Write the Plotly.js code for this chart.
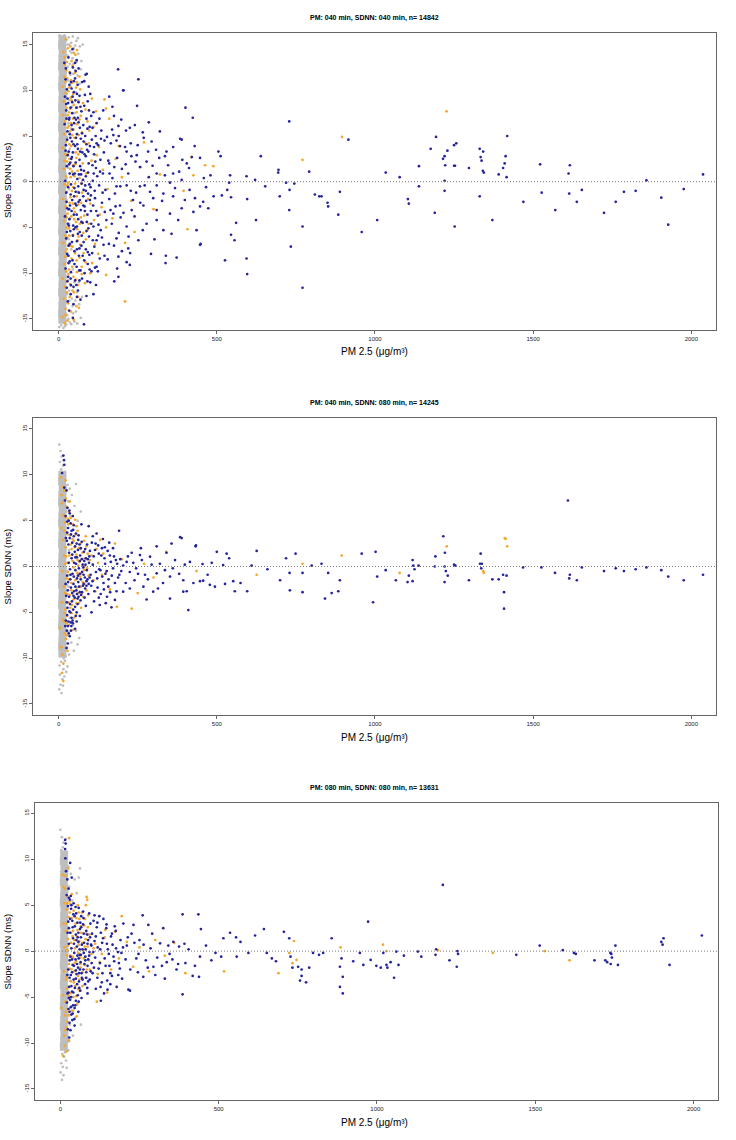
<!DOCTYPE html>
<html>
<head>
<meta charset="utf-8">
<script src="https://cdn.plot.ly/plotly-3.0.1.min.js"></script>
<style>html,body{margin:0;padding:0;background:#fff;}#chart{width:736px;height:1140px;}</style>
</head>
<body>
<div id="chart"></div>
<script>
// ---------------- DATA ----------------
const panelTitles = [
  "PM: 040 min, SDNN: 040 min, n= 14842",
  "PM: 040 min, SDNN: 080 min, n= 14245",
  "PM: 080 min, SDNN: 080 min, n= 13631"
];
const xTickVals = [0, 500, 1000, 1500, 2000];
const yTickVals = [-15, -10, -5, 0, 5, 10, 15];
const xLabel = "PM 2.5 (\u03bcg/m\u00b3)";
const yLabel = "Slope SDNN (ms)";

// Panel 1 : PM 040 / SDNN 040
const p1GreyCore = [[12,15.6],[11,14.9],[13,14.1],[12,13.4],[11,12.6],[13,11.9],[12,11.1],[11,10.4],[13,9.6],[12,8.9],[11,8.1],[13,7.4],[12,6.6],[11,5.9],[13,5.1],[12,4.4],[11,3.6],[13,2.9],[12,2.1],[11,1.4],[13,0.6],[12,-0.1],[11,-0.9],[13,-1.6],[12,-2.4],[11,-3.1],[13,-3.9],[12,-4.6],[11,-5.4],[13,-6.1],[12,-6.9],[11,-7.6],[13,-8.4],[12,-9.1],[11,-9.9],[13,-10.6],[12,-11.4],[11,-12.1],[13,-12.9],[12,-13.6],[11,-14.4],[12,-15.1]];
const p1Grey = [[25,15.5],[32,15.8],[40,15.2],[48,14.6],[56,15.4],[62,14.0],[28,13.8],[35,12.9],[44,13.5],[52,12.2],[60,11.6],[70,12.3],[22,12.0],[30,11.1],[38,10.4],[46,11.8],[54,9.8],[66,10.7],[26,9.6],[34,8.9],[42,8.2],[50,7.5],[24,7.1],[31,6.4],[39,5.8],[27,4.9],[35,3.6],[23,2.8],[30,1.5],[26,0.4],[33,-0.8],[24,-1.9],[29,-3.1],[36,-4.0],[25,-5.2],[32,-6.3],[40,-7.4],[27,-8.1],[35,-8.9],[45,-9.6],[23,-9.9],[30,-10.8],[38,-11.4],[50,-11.0],[58,-12.1],[26,-12.3],[34,-13.0],[44,-13.6],[55,-14.2],[65,-13.4],[22,-14.4],[31,-15.0],[40,-15.6],[50,-15.3],[70,-14.9],[20,-15.8],[76,15.0],[72,13.2],[18,16.0],[15,-16.0],[80,11.0],[64,-11.0],[74,-12.6],[28,15.0],[36,14.3],[21,-13.0],
  [3,16.0],[8,15.8],[20,14.8],[16,13.2],[24,11.0],[19,9.0],[33,15.0],[45,15.9],[61,15.7],[52,14.9],[47,12.9],[41,14.1],[57,13.1],[67,14.8],[29,12.6],[37,11.7],[21,-12.6],[33,-11.9],[42,-12.8],[27,-14.6],[36,-15.4],[46,-14.4],[59,-15.5],[17,-14.9],[24,-15.6],[53,-13.0],[2,-15.9],[8,-15.7]];
const p1Orange = [[15,14.2],[20,12.8],[18,11.5],[12,10.4],[22,9.7],[16,8.8],[25,8.1],[14,7.3],[20,6.6],[28,5.9],[17,5.2],[24,4.4],[13,3.7],[21,3.0],[27,2.2],[16,1.4],[23,0.6],[19,-0.3],[26,-1.1],[14,-1.9],[22,-2.7],[28,-3.5],[17,-4.3],[24,-5.0],[20,-5.9],[15,-6.7],[26,-7.4],[21,-8.2],[18,-9.0],[24,-9.8],[13,-10.6],[20,-11.5],[16,-12.8],[22,-13.9],[12,-14.8],[19,-15.5],
  [35,12.0],[42,10.8],[55,10.3],[38,9.2],[48,8.4],[62,8.9],[33,7.6],[45,6.9],[58,6.3],[70,7.2],[36,5.5],[50,4.8],[64,5.1],[40,3.9],[54,3.2],[72,3.6],[34,2.5],[46,1.8],[60,1.2],[76,2.0],[38,0.5],[52,-0.2],[66,0.4],[42,-1.0],[57,-1.6],[74,-1.2],[35,-2.3],[48,-2.9],[62,-2.5],[40,-3.8],[55,-4.4],[70,-3.9],[33,-5.1],[46,-5.8],[60,-6.4],[78,-5.6],[38,-7.0],[52,-7.8],[66,-8.3],[43,-9.3],[58,-9.9],[36,-11.2],[48,-12.1],[30,-13.3],[62,-12.6],
  [85,7.9],[95,4.2],[110,6.0],[120,2.9],[140,1.3],[155,-0.8],[100,-2.4],[130,-3.6],[90,-5.3],[115,-6.8],[150,-5.0],[170,-4.0],[180,2.5],[200,0.5],[145,9.0],[150,8.0],[160,6.9],[210,-6.7],[150,-10.2],[210,-13.1],[100,-10.0],[85,-8.8],[125,-7.9],[190,3.9],[230,-2.1],[260,1.6],[300,-3.0],[320,0.8],[270,4.3],[395,-1.0],[420,2.7],[489,1.7],[426,0.7],[407,-5.2],[463,1.8],[771,2.4],[896,4.9],[1226,7.7],[240,-5.5]];
const p1OrangeExtra = [[31,9.9],[27,11.3],[44,12.7],[53,13.9],[19,13.6],[37,14.8],[23,15.6],[58,14.4],[66,11.5],[41,8.9],[29,7.3],[57,7.6],[34,4.1],[47,5.7],[62,3.0],[43,1.1],[28,-0.4],[51,-3.3],[37,-1.7],[59,-5.2],[27,-6.1],[44,-7.1],[33,-9.6],[68,-6.9],[55,-10.7],[26,-12.1],[39,-14.2],[73,-9.3],[81,-3.7],[87,0.9],[93,-1.9],[104,2.3],[112,-4.2],[97,5.6],[83,-11.1],[68,10.1],[77,8.6],[106,-8.9],[128,3.8],[136,-2.8],[118,7.7],[64,-13.8],[48,-15.1],[31,3.2],[25,-3.9],[46,-0.6],[71,-2.3],[56,2.6],[39,6.4],[22,-7.7],
  [21,10.9],[26,13.1],[33,10.3],[29,14.6],[41,13.2],[52,11.9],[46,9.6],[59,8.1],[32,6.1],[43,5.1],[25,2.9],[37,1.4],[53,1.9],[30,-0.1],[45,-2.4],[61,-1.1],[23,-3.8],[34,-5.9],[49,-4.1],[67,-4.6],[29,-7.0],[41,-8.4],[57,-8.6],[24,-10.9],[35,-12.6],[47,-10.4],[61,-11.3],[28,-15.2],[74,5.4],[86,-6.3],[91,6.6],[73,-10.1],
  [18,2.3],[25,-2.2],[31,-10.1],[39,11.1],[50,0.6],[63,-6.0],[56,-13.6],[44,-11.9],[24,12.2],[36,8.0],[71,-0.2],[83,4.3],[95,-4.6],[105,9.1],[66,6.8],[48,14.1],[21,-14.6],[33,-4.6],[57,10.9],[79,-7.8]];
const p1Blue = [[18,13.0],[22,11.2],[26,10.1],[20,9.3],[30,8.6],[24,7.8],[34,7.0],[19,6.3],[28,5.5],[37,4.8],[23,4.0],[32,3.3],[40,2.5],[26,1.7],[35,0.9],[21,0.1],[30,-0.6],[38,-1.4],[25,-2.2],[33,-3.0],[20,-3.8],[29,-4.6],[37,-5.4],[24,-6.2],[32,-7.0],[27,-7.9],[35,-8.7],[22,-9.5],[30,-10.4],[26,-11.6],[38,-12.3],[33,6.8],[29,2.9],[36,-2.6],
  [45,12.5],[52,11.3],[60,10.6],[48,9.8],[66,9.4],[43,8.7],[56,8.1],[72,7.7],[50,7.0],[63,6.5],[78,6.2],[44,5.7],[58,5.2],[70,4.7],[47,4.1],[61,3.6],[75,3.2],[42,2.7],[54,2.1],[68,1.7],[80,1.2],[46,0.8],[59,0.3],[73,-0.2],[50,-0.7],[64,-1.2],[78,-1.6],[43,-2.0],[56,-2.6],[70,-3.1],[48,-3.6],[62,-4.1],[76,-4.5],[53,-5.0],[67,-5.5],[45,-5.9],[58,-6.5],[72,-7.0],[50,-7.6],[64,-8.1],[44,-8.6],[57,-9.3],[69,-9.7],[52,-10.8],[61,-11.9],[47,-13.4],[80,-15.6],
  [85,11.7],[92,8.8],[100,9.6],[110,7.6],[88,6.9],[98,6.0],[120,6.4],[135,5.6],[84,5.0],[105,4.6],[125,4.0],[145,4.5],[90,3.5],[112,3.0],[132,2.4],[95,2.0],[118,1.5],[140,0.9],[86,0.6],[108,0.1],[128,-0.4],[148,-0.9],[93,-1.3],[115,-1.8],[137,-2.3],[82,-2.7],[102,-3.2],[124,-3.7],[146,-3.3],[89,-4.4],[110,-4.9],[133,-5.3],[96,-6.0],[120,-6.4],[142,-6.9],[86,-7.4],[106,-7.8],[130,-8.4],[92,-9.0],[115,-9.4],[100,-11.0],[88,-12.5],
  [160,9.3],[175,7.2],[190,5.0],[210,3.8],[165,4.2],[185,2.6],[200,1.4],[230,2.8],[170,0.4],[195,-0.5],[220,0.9],[245,-1.2],[160,-1.9],[180,-2.7],[205,-3.4],[235,-2.0],[168,-4.6],[190,-5.6],[215,-4.9],[240,-3.8],[175,-7.0],[200,-7.6],[155,-8.5],[185,-9.5],[225,5.9],[250,4.0],[160,2.0],[178,-1.3],[205,10.0],
  [252,11.2],[204,10.0],[89,11.8],[401,8.1],[424,7.0],[241,6.2],[189,6.1],[173,5.1],[213,5.6],[266,5.4],[320,5.5],[269,4.8],[384,4.7],[389,4.6],[294,4.4],[120,4.2],[228,4.2],[308,3.5],[341,3.3],[362,3.8],[194,3.9],[215,3.3],[283,3.3],[247,2.9],[336,2.8],[391,2.4],[421,2.7],[405,2.0],[447,2.6],[278,2.2],[257,1.6],[297,1.75],[310,0.9],[336,0.7],[362,0.9],[412,1.5],[459,0.4],[389,0.2],[352,-0.1],[310,-0.4],[257,-0.5],[215,-0.4],[183,-0.5],[289,-1.1],[331,-1.3],[362,-1.6],[399,-2.0],[431,-1.8],[457,-2.2],[447,-2.7],[473,-2.9],[426,-3.3],[389,-2.9],[352,-3.5],[310,-3.1],[268,-2.6],[231,-3.1],[194,-2.6],[173,-3.5],[310,-4.2],[278,-4.6],[331,-5.3],[378,-4.2],[436,-5.3],[447,-6.9],[449,-6.8],[252,-6.4],[220,-7.3],[183,-6.2],[226,-7.8],[189,-8.2],[339,-8.1],[373,-8.3],[338,-8.9],[215,-8.8],[120,-9.3],[189,-10.4],
  [505,3.3],[512,2.8],[480,0.7],[490,-1.6],[516,-1.5],[542,0.7],[539,-0.1],[533,-0.9],[545,-1.7],[561,-4.5],[545,-5.8],[556,-6.4],[526,-8.6],[594,0.6],[596,-1.9],[594,-8.4],[596,-10.1],[624,-4.2],[621,0.2],[639,2.8],[653,-0.5],[694,1.0],[695,1.3],[699,-1.6],[719,-0.1],[730,-0.9],[729,6.6],[729,-3.1],[734,-7.1],[745,-0.2],[771,-11.6],[771,-4.9],[792,1.1],[810,-1.4],[824,-1.6],[831,-1.6],[850,-2.3],[852,-2.7],[884,-3.6],[889,-1.1],[916,4.6],[958,-5.5],
  [1007,-4.2],[1034,1.0],[1078,0.5],[1104,-1.9],[1107,-2.4],[1139,1.7],[1139,-0.5],[1176,3.6],[1189,-3.4],[1193,4.9],[1215,2.5],[1220,2.8],[1229,3.4],[1222,1.8],[1220,0.1],[1220,-1.0],[1250,4.0],[1257,4.2],[1250,1.75],[1253,1.75],[1252,-4.9],[1297,1.5],[1331,3.6],[1342,3.3],[1334,2.7],[1337,2.3],[1341,1.2],[1344,1.0],[1331,-1.6],[1371,-4.2],[1391,0.8],[1405,1.5],[1410,2.0],[1413,2.8],[1418,5.0],[1416,0.5],[1469,-2.2],[1522,1.9],[1527,-1.2],[1570,-3.1],[1616,1.8],[1612,0.9],[1614,-1.3],[1638,-2.2],[1654,-0.9],[1724,-3.4],[1761,-2.2],[1787,-1.1],[1824,-1.0],[1858,0.15],[1905,-1.75],[1927,-4.7],[1976,-0.8],[2037,0.8]];
const p1BlueExtra = [[41,10.2],[54,12.1],[63,8.7],[38,8.1],[49,6.4],[67,5.9],[81,8.3],[95,10.4],[74,10.9],[58,9.6],[35,5.2],[52,3.9],[79,4.4],[91,5.8],[103,7.2],[117,5.0],[129,6.9],[141,7.8],[153,4.9],[86,2.8],[99,3.9],[131,1.1],[143,3.2],[157,2.3],[169,5.7],[183,4.5],[64,0.8],[77,0.2],[101,-0.6],[122,0.6],[139,-1.2],[161,0.9],[176,1.6],[41,-3.2],[54,-1.1],[87,-2.1],[109,-2.6],[126,-4.7],[151,-4.2],[164,-3.1],[58,-4.9],[73,-5.9],[94,-5.1],[113,-7.1],[137,-6.1],[159,-6.8],[66,-7.3],[81,-8.6],[97,-8.0],[124,-9.8],[145,-8.1],[56,-11.3],[74,-10.6],[91,-10.9],[110,-12.3],[69,-12.9],[39,-9.9],[47,-11.5],[31,-8.9],[28,-10.9],[42,4.4],[35,-6.8],[47,1.7],[63,-2.2],[84,-0.4],[107,1.8],[119,-3.2],[198,6.8],[212,1.9],[228,-1.0],[196,-3.9],[243,2.2],[258,-2.3],[221,-6.0],[176,-10.9],[285,0.5],[299,-1.8],[272,-0.4],[318,2.6],[327,-2.1],[346,1.8],[368,-0.7],[381,1.1],[303,-6.3],[357,-5.7],[285,6.5],[414,-0.9],[430,3.9],[466,-0.6],[248,8.3],[170,8.2],[225,-9.1],[266,-5.3],[292,-7.9],[188,12.3],
  [23,12.4],[31,13.6],[44,14.5],[57,13.3],[36,11.9],[48,11.0],[28,9.1],[39,10.9],[53,8.9],[61,7.0],[69,8.2],[83,9.5],[25,6.9],[41,6.2],[55,6.8],[74,5.3],[88,4.1],[96,7.8],[107,5.9],[27,4.6],[45,3.2],[59,4.1],[66,2.4],[82,3.0],[93,1.0],[112,3.8],[33,1.9],[51,0.9],[62,-0.5],[71,0.8],[79,-0.9],[97,-0.3],[111,0.9],[24,-1.2],[39,-0.3],[49,-1.6],[67,-2.0],[83,-3.2],[99,-2.0],[114,-1.0],[34,-4.1],[46,-4.8],[57,-3.6],[72,-4.4],[88,-5.4],[103,-4.6],[26,-5.5],[42,-6.6],[61,-5.7],[79,-6.6],[92,-7.7],[108,-6.4],[31,-8.1],[50,-9.0],[65,-9.7],[82,-10.0],[38,-10.6],[58,-12.6],[45,-14.9],[33,-14.1],[104,-9.8],[118,-11.3],
  [22,3.4],[37,2.1],[53,-2.4],[68,3.3],[86,-1.0],[27,-2.9],[44,9.3],[58,-7.4],[76,-8.1],[34,10.6],[63,12.4],[91,-3.6],[48,-5.2],[71,1.3],[39,-11.3],[29,-13.1],[102,-1.5],[116,2.2],[125,-5.9],[134,4.7],[98,-9.6],[81,11.0],[55,4.8],[24,8.5],[66,-10.8],[43,7.5],[78,-2.6],[94,3.3],[32,-4.8],[52,13.0]];

// Panel 2 : PM 040 / SDNN 080
const p2GreyCore = [[12,10.0],[11,9.3],[13,8.5],[12,7.8],[11,7.0],[13,6.3],[12,5.5],[11,4.8],[13,4.0],[12,3.3],[11,2.5],[13,1.8],[12,1.0],[11,0.3],[13,-0.5],[12,-1.2],[11,-2.0],[13,-2.7],[12,-3.5],[11,-4.2],[13,-5.0],[12,-5.7],[11,-6.5],[13,-7.2],[12,-8.0],[11,-8.7],[12,-9.5]];
const p2Grey = [[2,13.3],[6,12.6],[10,12.0],[4,11.4],[14,11.0],[8,10.6],[18,10.2],[3,10.0],[12,9.9],[22,9.4],[28,8.9],[35,8.5],[55,9.0],[42,7.8],[30,7.1],[50,6.6],[25,6.0],[38,5.5],[60,5.0],[28,3.5],[33,1.8],[26,-0.5],[31,-2.2],[27,-4.0],[35,-5.6],[45,-6.4],[30,-7.1],[55,-7.0],[65,-7.8],[40,-8.3],[25,-8.8],[33,-9.6],[48,-9.2],[20,-10.3],[28,-10.9],[8,-10.4],[15,-11.2],[4,-11.8],[12,-12.3],[6,-12.9],[2,-13.4],[9,-13.8],[18,-12.0],[22,-9.8],[16,-10.0],[3,-10.8],[14,-13.0],[24,-11.5],[60,-8.5],[70,6.0],[20,8.8],[26,-2.0]];
const p2Orange = [[7,9.7],[11,6.9],[25,6.5],[15,5.6],[20,4.8],[9,4.2],[26,3.6],[14,2.9],[22,2.1],[18,1.2],[28,0.4],[12,-0.5],[24,-1.3],[16,-2.2],[27,-3.0],[10,-3.9],[21,-4.7],[13,-5.8],[4,-6.7],[19,-7.3],[25,-6.2],[11,-11.6],[15,-12.5],[8,-8.8],[17,8.3],[23,7.4],
  [33,6.0],[38,5.3],[45,4.6],[52,5.1],[60,3.9],[36,3.4],[48,2.8],[70,2.5],[41,1.9],[56,1.3],[75,1.5],[85,0.9],[44,0.6],[62,0.1],[80,-0.4],[90,-0.2],[35,-0.9],[53,-1.5],[68,-1.1],[82,-1.9],[95,-1.0],[40,-2.6],[58,-2.3],[74,-2.9],[47,-3.6],[64,-4.0],[78,-3.3],[37,-4.5],[55,-5.3],[41,-5.1],[32,-6.4],[46,-6.9],[88,2.2],[99,0.7],[72,-0.8],[66,0.5],
  [110,-1.5],[120,1.9],[131,2.9],[141,1.4],[150,-0.6],[162,-2.5],[178,2.5],[184,-4.4],[200,0.8],[231,-4.6],[250,-2.9],[270,0.3],[300,-1.2],[340,1.6],[436,-0.5],[626,-0.9],[771,0.3],[895,1.2],[1078,-0.7],[1227,2.2],[1342,-0.5],[1344,-0.7],[1410,3.1],[1413,3.0],[1418,2.2],[86,3.3],[83,0]];
const p2OrangeExtra = [[18,3.9],[29,5.2],[35,7.1],[24,1.1],[31,-1.4],[20,-2.9],[26,-5.4],[17,-6.0],[12,-9.6],[39,2.4],[47,-0.1],[54,3.5],[61,-2.9],[69,1.9],[76,-1.7],[92,1.4],[59,-0.7],[42,-4.2],[49,-5.6],[35,-3.1],[57,4.4],[81,2.8],[104,1.2],[116,-2.7],[125,0.4],[137,-0.9],[71,-4.5],[88,-2.6],[30,4.6],[64,2.0],[23,-7.9],[28,-9.2],[15,-10.6],[9,7.8],[14,8.7],[21,9.4],
  [21,0.3],[29,-0.6],[34,1.2],[40,-1.8],[51,2.1],[63,-1.0],[70,-2.2],[22,5.4],[27,-7.5],[32,-3.9],[18,-5.1],[44,3.0],[56,-4.0],[77,0.8],[60,0.7]];
const p2Blue = [[15,12.1],[17,11.6],[18,11.1],[11,10.2],[18,8.6],[25,8.3],[20,7.2],[28,6.4],[22,5.5],[32,5.0],
  [30,4.2],[38,4.7],[46,4.0],[55,3.6],[35,3.1],[43,2.6],[52,2.2],[62,2.9],[70,2.0],[80,1.6],[90,2.4],[33,1.5],[41,0.9],[49,0.4],[58,1.0],[67,0.6],[76,0.2],[86,0.9],[96,0.4],[36,-0.3],[44,-0.8],[53,-0.4],[61,-1.0],[70,-1.4],[79,-0.9],[88,-1.6],[98,-1.2],[30,-1.7],[39,-2.3],[47,-1.9],[56,-2.6],[65,-2.2],[74,-2.8],[84,-2.4],[94,-3.0],[33,-3.3],[42,-3.8],[51,-3.4],[60,-4.1],[69,-3.7],[28,-4.5],[37,-5.0],[46,-4.7],[54,-5.4],[31,-6.0],[40,-6.5],[26,-7.0],[35,-7.6],[29,-8.4],[23,-5.9],[24,-3.2],[27,-1.0],[26,2.8],[48,3.3],[64,-0.2],[82,-3.4],[57,-6.0],
  [105,2.6],[115,1.8],[125,2.3],[135,1.2],[145,0.9],[155,1.7],[165,0.5],[175,1.1],[185,0.3],[195,0.8],[108,0.2],[118,-0.6],[128,-0.3],[138,-1.1],[148,-0.8],[158,-1.4],[168,-1.0],[178,-1.8],[188,-1.2],[198,-0.5],[103,-2.1],[113,-2.7],[123,-2.3],[133,-3.0],[143,-2.5],[153,-3.3],[163,-2.8],[112,-3.8],[130,-4.2],[167,-4.45],[178,-3.65],[191,3.9],[140,3.0],[160,2.6],[120,3.6],[104,-5.0],
  [389,3.1],[384,3.2],[433,2.2],[231,1.5],[257,1.25],[289,1.07],[341,1.5],[368,0.7],[399,0.2],[455,0.27],[484,0.4],[500,1.6],[520,0.16],[225,-0.6],[273,-0.9],[310,-0.75],[352,-1.1],[394,-1.5],[426,-1.8],[457,-1.55],[494,-2.2],[526,-1.9],[352,-3.5],[394,-2.75],[410,-4.75],[225,-2.4],[268,-2.2],[299,-2.75],[204,-2.75],[278,-3.6],[405,-2.7],[447,-1.6],[478,-2.0],[215,0.5],[240,-1.5],[320,0.3],[260,2.0],[310,2.2],[357,2.5],[434,2.3],[330,-1.8],[245,-0.2],
  [531,1.4],[539,0.9],[626,1.7],[749,1.4],[719,0.9],[831,0.3],[958,1.4],[552,-1.6],[557,-2.7],[575,-1.8],[596,-2.7],[700,-1.5],[731,-2.6],[771,-2.8],[842,-3.5],[863,-2.9],[884,-2.7],[889,-1.5],[852,-0.7],[730,-0.7],[771,-0.7],[610,0.1],[660,-0.3],[800,0.1],
  [994,-3.9],[1007,-1.1],[1002,1.6],[1034,-0.4],[1066,-1.5],[1103,-1.7],[1107,-1.0],[1119,0.7],[1121,0.1],[1119,-1.6],[1125,-0.3],[1138,0.1],[1191,1.1],[1189,0],[1216,3.3],[1221,1.5],[1220,0],[1224,-0.5],[1220,-1.7],[1230,-1.0],[1250,0.2],[1254,0.1],[1297,-1.5],[1334,1.4],[1332,0.3],[1338,0.3],[1336,-0.2],[1371,-1.4],[1391,-1.4],[1405,-0.9],[1416,-1.0],[1408,-2.8],[1408,-4.6],[1468,-0.1],[1526,-0.1],[1569,-0.7],[1610,7.2],[1616,-0.9],[1614,-1.3],[1638,-1.5],[1654,-0.1],[1724,-0.5],[1761,-0.2],[1787,-0.5],[1824,-0.3],[1858,-0.1],[1905,-0.4],[1927,-1.1],[1976,-1.5],[2037,-0.9]];
const p2BlueExtra = [[27,3.7],[34,6.1],[39,3.5],[45,5.5],[51,1.6],[57,2.5],[63,3.4],[68,1.2],[73,2.7],[78,-0.1],[84,1.9],[92,0.8],[99,1.7],[32,0.4],[38,-0.9],[43,-2.9],[48,-1.1],[53,-2.2],[58,-3.0],[62,-1.7],[67,-0.8],[71,-3.1],[77,-2.1],[83,-1.2],[89,-0.4],[95,-1.9],[101,-0.9],[107,-1.6],[29,-2.6],[36,-4.1],[41,-5.6],[47,-3.2],[52,-4.4],[57,-5.0],[63,-3.3],[27,-5.3],[32,-7.3],[38,-6.1],[44,-5.9],[25,-8.9],[21,-6.5],[111,1.1],[117,2.5],[122,-1.3],[127,1.4],[132,-0.4],[137,2.0],[142,-1.8],[147,0.3],[152,-0.5],[157,-2.2],[162,1.2],[172,-0.2],[181,0.7],[192,-0.9],[204,0.1],[212,-1.8],[219,1.1],[236,0.4],[251,-0.8],[263,0.7],[282,-1.4],[294,0.2],[314,-2.4],[336,-0.4],[361,-0.2],[381,-0.8],[415,0.5],[471,-0.9],[108,3.3],[127,-3.4],[149,-4.0],[95,4.4],[72,4.6],[86,-4.3],[146,2.1],[183,-2.7],[172,2.0],[67,-5.4],[52,-6.8],
  [23,3.1],[31,2.4],[37,-1.4],[43,1.3],[49,-2.7],[55,0.3],[61,1.8],[67,-2.8],[73,0.8],[79,-1.9],[85,0.2],[91,-1.4],[97,1.1],[26,-3.9],[34,-4.9],[45,-6.2],[58,-1.3],[66,2.4],[74,-0.6],[81,0.6],[27,4.9],[35,5.8],[41,3.9],[22,-1.9],[29,-6.5],[39,-7.0],[48,4.5],[60,-3.5],[53,1.0],[88,-2.1]];

// Panel 3 : PM 080 / SDNN 080
const p3GreyCore = [[12,10.5],[11,9.8],[13,9.0],[12,8.3],[11,7.5],[13,6.8],[12,6.0],[11,5.3],[13,4.5],[12,3.8],[11,3.0],[13,2.3],[12,1.5],[11,0.8],[13,0.0],[12,-0.7],[11,-1.5],[13,-2.2],[12,-3.0],[11,-3.7],[13,-4.5],[12,-5.2],[11,-6.0],[13,-6.7],[12,-7.5],[11,-8.2],[13,-9.0],[12,-9.7],[11,-10.4]];
const p3Grey = [[0,13.2],[5,12.4],[10,11.8],[3,11.0],[14,10.6],[8,11.3],[20,9.9],[25,9.2],[62,9.0],[33,8.4],[45,7.8],[28,7.0],[52,6.3],[38,5.5],[24,4.6],[30,2.0],[27,-1.0],[32,-3.2],[26,-5.0],[36,-6.0],[48,-7.2],[65,-8.0],[30,-8.0],[22,-9.5],[40,-9.2],[15,-11.0],[25,-10.8],[6,-11.2],[12,-11.5],[3,-12.2],[18,-11.9],[8,-12.6],[1,-13.2],[10,-13.5],[5,-14.0],[20,-12.7],[28,-9.8],[16,-9.0],[55,-5.6],[58,8.0],[18,12.2],[22,-2.5]];
const p3Orange = [[28,12.3],[8,8.3],[14,6.8],[22,6.0],[12,5.2],[19,4.5],[26,3.7],[10,3.0],[17,2.2],[24,1.3],[13,0.4],[21,-0.5],[27,-1.4],[11,-2.2],[18,-3.1],[25,-3.9],[9,-4.8],[16,-5.5],[23,-6.3],[14,-7.0],[20,-4.1],[4,-6.2],[9,-11.4],[15,-8.6],
  [83,5.9],[85,5.6],[32,5.1],[42,4.4],[55,5.0],[68,4.2],[36,3.6],[48,3.0],[60,3.5],[75,2.8],[40,2.2],[52,1.6],[66,2.0],[80,1.3],[92,1.8],[34,0.9],[46,0.3],[58,0.7],[72,0.1],[86,0.5],[38,-0.6],[50,-1.1],[63,-0.7],[77,-1.5],[90,-1.0],[44,-2.2],[56,-2.7],[70,-2.3],[84,-2.9],[33,-3.3],[47,-3.8],[61,-4.3],[41,-5.0],[53,-5.8],[36,-6.5],[98,-0.3],[78,3.5],[64,-1.8],
  [115,-5.5],[148,-4.5],[173,2.1],[194,3.8],[110,0.8],[125,-1.2],[140,1.5],[160,-2.0],[185,-0.8],[210,1.0],[230,-1.7],[250,0.4],[280,-2.2],[300,1.2],[330,-0.5],[360,0.9],[395,-2.4],[517,-2.2],[689,-2.4],[723,-0.2],[733,-1.3],[746,-0.96],[738,1.1],[885,0.4],[1019,0.7],[1030,0],[1193,0.1],[1366,-0.2],[1529,0],[1608,-1.0]];
const p3OrangeExtra = [[18,3.0],[30,4.2],[36,6.2],[24,0.6],[31,-0.5],[20,-2.8],[27,-4.9],[17,-6.6],[12,-9.2],[39,1.6],[46,-1.3],[54,2.3],[60,-3.1],[69,0.9],[74,-0.8],[82,1.9],[57,-0.2],[43,-3.4],[50,-4.9],[35,-2.0],[58,4.2],[87,2.6],[105,0.3],[118,-2.5],[131,-0.3],[142,2.3],[70,-3.8],[93,-2.0],[29,5.4],[65,2.7],[22,-7.7],[19,-8.3],[14,-10.3],[10,7.0],[16,8.2],[25,9.0],[81,5.0],[88,3.9],[40,-6.5],[52,-7.1],
  [21,0.1],[29,-1.9],[34,2.0],[40,-0.7],[51,3.6],[63,-1.4],[70,-3.0],[22,5.2],[27,-7.0],[32,-4.6],[18,-5.6],[44,1.2],[56,-4.1],[77,0.5],[60,1.1],[83,-2.0],[26,-9.7],[20,-10.9]];
const p3Blue = [[15,12.1],[17,11.7],[15,11.1],[16,10.1],[18,8.7],[22,7.8],[26,6.8],[20,6.1],[30,5.6],[24,4.9],
  [34,4.6],[42,5.2],[50,4.1],[58,4.7],[66,3.8],[38,3.3],[46,2.7],[54,3.1],[62,2.4],[72,2.9],[82,2.2],[95,3.0],[31,2.0],[40,1.4],[49,1.8],[57,1.0],[65,1.5],[75,0.9],[88,1.2],[98,0.6],[35,0.3],[44,-0.2],[52,0.5],[61,-0.4],[70,0.2],[79,-0.6],[92,-0.1],[30,-1.0],[39,-1.5],[48,-0.9],[56,-1.8],[64,-1.2],[73,-2.0],[86,-1.6],[96,-2.2],[33,-2.6],[42,-3.1],[51,-2.5],[59,-3.3],[68,-2.9],[78,-3.6],[28,-3.9],[37,-4.4],[46,-4.0],[55,-4.8],[63,-4.3],[31,-5.3],[40,-5.9],[49,-5.4],[26,-6.3],[35,-6.9],[44,-7.4],[29,-7.8],[23,-4.6],[25,-2.0],[27,0.8],[25,3.2],[85,-4.0],
  [105,3.3],[123,3.8],[136,3.5],[115,2.6],[128,2.0],[145,2.5],[160,1.6],[175,2.2],[190,1.2],[108,1.1],[118,0.4],[132,0.9],[150,0.2],[165,0.7],[182,-0.1],[198,0.4],[110,-0.7],[125,-1.3],[140,-0.8],[155,-1.6],[170,-1.1],[188,-1.9],[102,-2.4],[117,-2.9],[133,-2.4],[148,-3.2],[163,-2.7],[178,-3.9],[195,-3.0],[112,-4.1],[138,-4.6],[128,-5.4],[158,-3.6],[104,-0.1],
  [215,-4.2],[220,-4.3],[262,-2.8],[294,-1.7],[336,-1.2],[315,0.85],[357,1.0],[278,2.85],[325,2.5],[231,2.85],[199,3.0],[260,3.9],[386,4.0],[436,4.0],[444,2.4],[386,-4.7],[418,-2.7],[438,-2.8],[395,-1.3],[367,-2.0],[441,-0.6],[477,-1.0],[508,-0.6],[536,2.0],[515,1.4],[210,0.6],[240,-0.8],[250,1.2],[270,-1.0],[285,0.3],[300,-2.6],[345,-0.3],[375,0.5],[405,0.2],[460,0.6],[490,-0.2],[330,-3.0],[245,-2.3],[225,1.9],
  [555,1.5],[569,1.0],[615,1.7],[643,2.4],[706,2.1],[723,1.4],[857,1.4],[946,-0.2],[957,-1.5],[925,-1.1],[888,-0.8],[883,-1.7],[892,-2.8],[883,-3.9],[892,-4.6],[557,-0.6],[594,-0.2],[652,-0.2],[668,-0.8],[681,-1.1],[727,-0.6],[733,-1.8],[751,-1.7],[757,-3.2],[762,-2.7],[776,-3.4],[762,-2.0],[786,-1.8],[798,-0.2],[817,-0.4],[830,-0.2],
  [972,3.2],[980,-0.96],[998,-1.6],[1012,-1.8],[1020,-0.2],[1030,-1.5],[1033,-1.8],[1043,-1.2],[1054,-2.9],[1061,-0.05],[1068,-1.5],[1085,-0.5],[1129,-0.05],[1140,-0.6],[1185,-0.4],[1187,0.2],[1208,7.2],[1229,-1.0],[1254,0],[1256,-0.3],[1252,-1.7],[1440,-0.4],[1514,0.6],[1587,0.1],[1622,-0.2],[1628,-0.3],[1687,-1.0],[1721,-1.0],[1727,-1.2],[1737,-0.2],[1740,-0.3],[1742,-0.7],[1738,-1.4],[1753,0.6],[1761,-1.5],[1898,1.0],[1905,1.4],[1902,0.7],[1924,-1.5],[2026,1.7]];
const p3BlueExtra = [[27,2.5],[33,6.0],[39,2.6],[45,3.8],[51,1.2],[57,2.0],[63,3.1],[68,0.7],[74,1.9],[80,0.2],[86,0.8],[94,1.5],[100,1.9],[32,-0.6],[37,-2.3],[43,-1.6],[49,-2.1],[54,-0.5],[59,-2.4],[65,-0.4],[70,-3.1],[76,-1.4],[82,-2.3],[88,-0.9],[93,-3.1],[99,-1.3],[106,-1.8],[29,-2.9],[35,-3.8],[41,-4.5],[47,-5.9],[53,-3.6],[58,-5.5],[62,-2.0],[27,-5.1],[33,-6.1],[38,-7.5],[45,-6.2],[24,-8.5],[21,-5.6],[112,1.6],[117,3.1],[121,-1.9],[126,0.2],[131,-3.4],[135,1.4],[143,-1.6],[147,0.8],[153,-0.3],[158,-2.4],[163,1.9],[168,-0.6],[176,0.3],[185,-1.3],[193,-0.2],[206,-0.9],[213,1.5],[221,-2.0],[234,0.9],[247,-0.3],[263,0.7],[276,-1.8],[290,1.9],[306,-0.7],[321,-1.6],[341,0.6],[354,-0.9],[372,-1.4],[392,0.8],[425,-1.6],[108,3.9],[127,-3.9],[149,-4.2],[91,4.1],[72,4.3],[86,-4.6],[146,2.9],[183,-2.6],[172,2.7],[67,-5.1],[57,-6.6],[36,8.0],[31,9.6],
  [23,2.0],[31,3.5],[37,-0.9],[43,0.8],[49,-3.0],[55,1.5],[61,0.2],[67,-2.4],[73,3.6],[79,-1.0],[85,1.8],[91,-0.5],[97,0.7],[26,-4.5],[34,-5.0],[45,-8.1],[58,-0.8],[66,2.6],[74,-0.2],[81,-2.9],[27,5.8],[35,5.0],[41,4.0],[22,-2.6],[29,-6.6],[39,-6.8],[48,4.8],[60,-4.0],[53,-1.4],[88,-3.3],[32,-8.6],[28,-9.4]];

// ---------------- STYLE / LAYOUT ----------------
const FONT = "Liberation Sans, Arial, Helvetica, sans-serif";
const GREY = "#bebebe", ORANGE = "#f5a529", BLUE = "#24249c";
const panels = [
  {core:p1GreyCore, grey:p1Grey, orange:p1Orange.concat(p1OrangeExtra), blue:p1Blue.concat(p1BlueExtra), xr:[-81,2078], yr:[-16.22,16.27], xd:[0.04484,0.97283], yd:[0.71053,0.97105]},
  {core:p2GreyCore, grey:p2Grey, orange:p2Orange.concat(p2OrangeExtra), blue:p2Blue.concat(p2BlueExtra), xr:[-81,2078], yr:[-16.2,16.23], xd:[0.04484,0.97283], yd:[0.37281,0.63360]},
  {core:p3GreyCore, grey:p3Grey, orange:p3Orange.concat(p3OrangeExtra), blue:p3Blue.concat(p3BlueExtra), xr:[-80,2077], yr:[-16.2,16.15], xd:[0.04755,0.97554], yd:[0.03509,0.29588]}
];
const titleY = [0.98395, 0.64623, 0.30851];
const xLabY = [0.69149, 0.35325, 0.01550];
const yLabY = [0.84184, 0.50289, 0.16518];

const traces = [];
const layout = {
  width:736, height:1140, autosize:false,
  margin:{l:0,r:0,t:0,b:0},
  paper_bgcolor:"#fff", plot_bgcolor:"#fff",
  showlegend:false, hovermode:false,
  font:{family:FONT, color:"#000"},
  annotations:[], shapes:[]
};
const xs = a => a.map(p => p[0]);
const ys = a => a.map(p => p[1]);

panels.forEach((P, i) => {
  const n = i === 0 ? "" : String(i + 1);
  const xa = "x" + n, ya = "y" + n;
  const mk = (arr, color, size, symbol) => ({
    type:"scatter", mode:"markers", x:xs(arr), y:ys(arr), xaxis:xa, yaxis:ya,
    marker:{color:color, size:size, symbol:symbol || "circle", line:{width:0}},
    hoverinfo:"skip", cliponaxis:true
  });
  traces.push(mk(P.core, GREY, 8, "square"));
  traces.push(mk(P.grey, GREY, 2.7));
  traces.push(mk(P.orange, ORANGE, 2.7));
  traces.push(mk(P.blue, BLUE, 2.7));

  const axCommon = {
    showgrid:false, zeroline:false, showline:true, mirror:true,
    linecolor:"#666", linewidth:1, ticks:"outside", ticklen:3, tickcolor:"#666",
    tickfont:{size:6, family:FONT, color:"#222"}
  };
  layout["xaxis" + n] = Object.assign({}, axCommon, {
    domain:P.xd, range:P.xr, anchor:ya, tickmode:"array", tickvals:xTickVals,
    ticktext:xTickVals.map(String)
  });
  layout["yaxis" + n] = Object.assign({}, axCommon, {
    domain:P.yd, range:P.yr, anchor:xa, tickmode:"array", tickvals:yTickVals,
    ticktext:yTickVals.map(String), tickangle:-90
  });
  layout.shapes.push({type:"line", xref:xa + " domain", yref:ya, x0:0, x1:1, y0:0, y1:0,
    line:{color:"#777", width:1, dash:"1px,2px"}});
  layout.annotations.push({text:panelTitles[i], xref:"paper", yref:"paper",
    x:0.5088, y:titleY[i], xanchor:"center", yanchor:"middle", showarrow:false,
    font:{size:7, family:FONT, color:"#000", weight:"bold"}});
  layout.annotations.push({text:xLabel, xref:"paper", yref:"paper",
    x:0.5095, y:xLabY[i], xanchor:"center", yanchor:"middle", showarrow:false,
    font:{size:10, family:FONT, color:"#000"}});
  layout.annotations.push({text:yLabel, xref:"paper", yref:"paper", textangle:-90,
    x:0.0105, y:yLabY[i], xanchor:"center", yanchor:"middle", showarrow:false,
    font:{size:9.5, family:FONT, color:"#000"}});
});

Plotly.newPlot("chart", traces, layout, {staticPlot:true, displayModeBar:false});
</script>
</body>
</html>
